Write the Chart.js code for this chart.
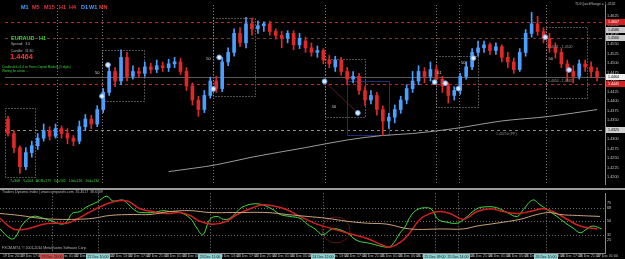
<!DOCTYPE html>
<html>
<head>
<meta charset="utf-8">
<script src="https://cdn.jsdelivr.net/npm/chart.js@4.4.1/dist/chart.umd.min.js"></script>
<style>
  html, body { margin: 0; padding: 0; background: #000; }
  #wrap { position: relative; width: 625px; height: 259px; overflow: hidden; background: #000;
          font-family: "Liberation Sans", Arial, sans-serif; }
  canvas { position: absolute; left: 0; }
  #priceChart { top: 0; }
  #oscChart { top: 189px; }
  .sep { position: absolute; left: 0; top: 188px; width: 625px; height: 2px; background: #9c9c9c; }
  .t { position: absolute; white-space: nowrap; line-height: 1; z-index: 2; }
  .tf { font-size: 5.5px; font-weight: bold; top: 4.5px; }
  .blue { color: #4aa0ff; }
  .red { color: #e23a3a; }
  .small { font-size: 3.5px; color: #b8b8b8; }
  .green { color: #3cd03c; }
</style>
</head>
<body>
<div id="wrap">
  <canvas id="priceChart" width="625" height="189"></canvas>
  <canvas id="oscChart" width="625" height="70"></canvas>
  <div class="sep"></div>

  <!-- timeframe buttons -->
  <span class="t tf blue" style="left:21px">M1</span>
  <span class="t tf red" style="left:32px">M5</span>
  <span class="t tf red" style="left:44px">M15</span>
  <span class="t tf red" style="left:59px">H1</span>
  <span class="t tf red" style="left:69px">H4</span>
  <span class="t tf blue" style="left:81px">D1</span>
  <span class="t tf blue" style="left:89px">W1</span>
  <span class="t tf red" style="left:99px">MN</span>

  <!-- info panel -->
  <span class="t green" style="left:11px; top:35.5px; font-size:5.5px; font-weight:bold">EURAUD&nbsp;&nbsp;&nbsp;H1</span>
  <span class="t small" style="left:11px; top:43px">Spread:&nbsp; 3.0</span>
  <span class="t small" style="left:11px; top:49.5px">Candle:&nbsp; 11:30</span>
  <span class="t" style="left:10px; top:53px; font-size:7.5px; font-weight:bold; color:#ff3030">1.4464</span>
  <span class="t small green" style="left:2px; top:65.5px; font-size:3px">Candlestick v1.4 on Forex Capital Markets (5 digits)</span>
  <span class="t small green" style="left:2px; top:69.5px; font-size:3px">Waiting for action ...</span>
  <span class="t small green" style="left:10px; top:180px">T=308&nbsp;&nbsp; Y=504&nbsp;&nbsp; ADR=175&nbsp;&nbsp; 5d=162&nbsp;&nbsp; 10d=136&nbsp;&nbsp; 20d=134</span>
  <span class="t small" style="left:575px; top:3px">TDI QuickRange = 1.4532</span>
  <span class="t small" style="left:548px; top:46px; color:#9a9a9a">1.4531 - 1.4520</span>
  <span class="t small" style="left:548px; top:80px; color:#9a9a9a">1.4450 - 1.4447</span>
  <span class="t small" style="left:496px; top:133px; color:#8a8a8a">1.43250 (PP)</span>

  <!-- indicator pane texts -->
  <span class="t small" style="left:2px; top:190.5px">Traders Dynamic Index | www.compassfx.com&nbsp; 35.4517&nbsp; 38.6309</span>
  <span class="t small" style="left:2px; top:246.5px">FXCM-MT4, © 2001-2014 MetaQuotes Software Corp.</span>
</div>

<script>
// EURAUD H1 candles, one per bar index
const opens = [
  1.4353, 1.4315, 1.4278, 1.4228, 1.4265, 1.4283, 1.4303, 1.4323, 1.4308, 1.4328,
  1.4315, 1.4303, 1.4295, 1.4333, 1.4353, 1.4340, 1.4378, 1.4423, 1.4478, 1.4453,
  1.4515, 1.4465, 1.4478, 1.4473, 1.4490, 1.4483, 1.4493, 1.4488, 1.4498, 1.4503,
  1.4478, 1.4440, 1.4403, 1.4378, 1.4415, 1.4453, 1.4433, 1.4503, 1.4528, 1.4578,
  1.4553, 1.4603, 1.4590, 1.4598, 1.4603, 1.4583, 1.4573, 1.4565, 1.4578, 1.4548,
  1.4558, 1.4540, 1.4528, 1.4533, 1.4508, 1.4490, 1.4508, 1.4478, 1.4458, 1.4465,
  1.4428, 1.4403, 1.4415, 1.4378, 1.4348, 1.4358, 1.4378, 1.4403, 1.4433, 1.4453,
  1.4478, 1.4465, 1.4483, 1.4458, 1.4440, 1.4415, 1.4428, 1.4465, 1.4490, 1.4528,
  1.4540, 1.4548, 1.4533, 1.4543, 1.4515, 1.4503, 1.4483, 1.4528, 1.4578, 1.4603,
  1.4583, 1.4565, 1.4540, 1.4528, 1.4498, 1.4478, 1.4465, 1.4498, 1.4490, 1.4478
];
const highs = [
  1.4360, 1.4323, 1.4283, 1.4278, 1.4295, 1.4315, 1.4340, 1.4333, 1.4340, 1.4335,
  1.4328, 1.4310, 1.4348, 1.4365, 1.4363, 1.4388, 1.4433, 1.4498, 1.4488, 1.4535,
  1.4528, 1.4493, 1.4488, 1.4503, 1.4500, 1.4508, 1.4503, 1.4510, 1.4515, 1.4513,
  1.4488, 1.4448, 1.4413, 1.4428, 1.4463, 1.4465, 1.4515, 1.4540, 1.4590, 1.4593,
  1.4620, 1.4618, 1.4610, 1.4608, 1.4610, 1.4590, 1.4583, 1.4585, 1.4585, 1.4578,
  1.4568, 1.4553, 1.4545, 1.4538, 1.4520, 1.4518, 1.4515, 1.4488, 1.4478, 1.4473,
  1.4438, 1.4428, 1.4423, 1.4388, 1.4368, 1.4390, 1.4413, 1.4443, 1.4478, 1.4493,
  1.4488, 1.4503, 1.4493, 1.4465, 1.4448, 1.4438, 1.4473, 1.4503, 1.4538, 1.4558,
  1.4558, 1.4553, 1.4553, 1.4548, 1.4528, 1.4513, 1.4538, 1.4588, 1.4633, 1.4623,
  1.4593, 1.4578, 1.4553, 1.4538, 1.4508, 1.4493, 1.4508, 1.4508, 1.4503, 1.4488
];
const lows = [
  1.4308, 1.4265, 1.4210, 1.4220, 1.4253, 1.4273, 1.4295, 1.4298, 1.4303, 1.4303,
  1.4288, 1.4283, 1.4288, 1.4323, 1.4328, 1.4333, 1.4370, 1.4415, 1.4438, 1.4443,
  1.4453, 1.4458, 1.4463, 1.4465, 1.4473, 1.4475, 1.4478, 1.4478, 1.4488, 1.4470,
  1.4428, 1.4390, 1.4360, 1.4370, 1.4408, 1.4423, 1.4425, 1.4493, 1.4518, 1.4543,
  1.4540, 1.4573, 1.4578, 1.4583, 1.4573, 1.4563, 1.4540, 1.4553, 1.4535, 1.4538,
  1.4528, 1.4518, 1.4515, 1.4498, 1.4488, 1.4478, 1.4468, 1.4443, 1.4448, 1.4418,
  1.4388, 1.4393, 1.4363, 1.4310, 1.4328, 1.4343, 1.4368, 1.4393, 1.4423, 1.4443,
  1.4448, 1.4453, 1.4443, 1.4423, 1.4395, 1.4403, 1.4418, 1.4458, 1.4483, 1.4518,
  1.4528, 1.4523, 1.4523, 1.4503, 1.4488, 1.4473, 1.4478, 1.4518, 1.4568, 1.4573,
  1.4553, 1.4528, 1.4513, 1.4488, 1.4453, 1.4448, 1.4458, 1.4478, 1.4463, 1.4453
];
const closes = [
  1.4315, 1.4278, 1.4228, 1.4265, 1.4283, 1.4303, 1.4323, 1.4308, 1.4328, 1.4315,
  1.4303, 1.4295, 1.4333, 1.4353, 1.4340, 1.4378, 1.4423, 1.4478, 1.4453, 1.4515,
  1.4465, 1.4478, 1.4473, 1.4490, 1.4483, 1.4493, 1.4488, 1.4498, 1.4503, 1.4478,
  1.4440, 1.4403, 1.4378, 1.4415, 1.4453, 1.4433, 1.4503, 1.4528, 1.4578, 1.4553,
  1.4603, 1.4590, 1.4598, 1.4603, 1.4583, 1.4573, 1.4565, 1.4578, 1.4548, 1.4565,
  1.4540, 1.4528, 1.4533, 1.4508, 1.4498, 1.4508, 1.4478, 1.4458, 1.4465, 1.4428,
  1.4403, 1.4415, 1.4378, 1.4348, 1.4358, 1.4378, 1.4403, 1.4433, 1.4453, 1.4478,
  1.4465, 1.4483, 1.4458, 1.4440, 1.4415, 1.4428, 1.4465, 1.4490, 1.4528, 1.4540,
  1.4548, 1.4533, 1.4543, 1.4515, 1.4503, 1.4483, 1.4528, 1.4578, 1.4603, 1.4583,
  1.4565, 1.4540, 1.4528, 1.4498, 1.4478, 1.4465, 1.4498, 1.4490, 1.4478, 1.4464
];

// slow moving average (gray curve), read at a few bars
const maBars = [27, 35, 41, 50, 57, 63, 68, 75, 83, 91, 99];
const maVals = [1.4215, 1.4233, 1.4253, 1.4278, 1.4298, 1.4310, 1.4315, 1.4328, 1.4348, 1.4360, 1.4378];

// arrow dots
const dotBars = [16.8, 15.8, 35.5, 34.5, 53.2, 58.8, 78.2, 71.7, 73.5, 75.7, 90.3, 94.3];
const dotPrices = [1.4495, 1.4413, 1.4515, 1.4432, 1.4452, 1.4369, 1.4513, 1.4450, 1.4447, 1.4433, 1.4568, 1.4482];

// Traders Dynamic Index lines
const greenBars = [-0.5, 1.2, 2, 3.3, 5, 6.7, 8.2, 9.8, 10.7, 11.5, 12.8, 14, 15.7, 17.3, 18.3, 20, 20.8, 22.3,
  23.3, 25, 26.7, 27.8, 29.5, 31.2, 32.3, 33.3, 34.5, 35.7, 36.7, 37.8, 39, 40, 41.7, 43.3, 45, 46.2, 47.8,
  49.5, 50.7, 52, 53.3, 54.8, 55.7, 57.3, 59, 61.2, 64, 64.8, 66.2, 67, 67.8, 69, 70.7, 71.5, 72.5, 74, 75.7,
  77, 79, 80.7, 82.3, 84, 85.7, 86.7, 88.3, 89.5, 90.7, 92.3, 94, 95, 96.2, 97.3, 98.3, 99.8];
const greenVals = [39.7, 26.9, 28.1, 46.1, 56.4, 53.9, 50.0, 46.1, 50.0, 60.3, 62.9, 69.3, 75.7, 83.4, 77.0, 78.3,
  73.1, 62.9, 61.6, 61.6, 64.1, 62.9, 61.6, 53.9, 41.0, 32.0, 52.6, 56.4, 52.6, 53.9, 62.9, 69.3, 73.1, 71.9,
  65.4, 59.0, 56.4, 53.9, 46.1, 39.7, 32.0, 39.7, 39.7, 34.6, 24.3, 20.4, 15.3, 17.9, 34.6, 42.3, 55.1, 65.4,
  68.0, 65.4, 52.6, 48.7, 47.4, 53.9, 66.7, 69.3, 68.0, 61.6, 56.4, 65.4, 78.3, 71.9, 65.4, 56.4, 46.1, 41.0,
  34.6, 39.7, 43.6, 39.7];
const redBars = [-0.5, 1.7, 4, 6.7, 9, 10.7, 12.3, 14, 16.2, 18.3, 20.7, 22.8, 25, 27.3, 29.5, 31.2, 32.8, 35,
  37.3, 39, 41.2, 43.3, 45.7, 47.3, 49.5, 52.3, 55, 57.8, 60.7, 63.3, 64.5, 66.2, 67.8, 69.5, 71.2, 72.8, 74.5,
  76.7, 79, 81.2, 83.3, 85.7, 87.8, 90, 91.7, 94, 96.2, 99];
const redVals = [53.9, 39.7, 39.7, 46.1, 47.4, 47.4, 52.6, 60.3, 69.3, 75.7, 77.0, 66.7, 62.9, 60.3, 61.6, 57.7,
  50.0, 46.1, 50.0, 59.0, 66.7, 71.9, 69.3, 65.4, 56.4, 46.1, 39.7, 33.3, 26.9, 17.9, 15.3, 21.7, 34.6, 52.6,
  60.3, 62.9, 60.3, 52.6, 62.9, 66.7, 62.9, 60.3, 62.9, 66.7, 62.9, 52.6, 43.6, 39.7];
const baseBars = [-0.5, 2.8, 6.2, 9, 12.3, 15, 17.8, 21.7, 24.5, 27.8, 31.2, 34.5, 38.3, 44, 47.3, 50.7, 54,
  57.3, 60.7, 64, 67.8, 73.3, 76.7, 79, 82.3, 86.2, 89, 91.2, 92.8, 95.7, 99.5];
const baseVals = [60.3, 57.7, 53.9, 52.6, 52.6, 53.9, 57.7, 59.0, 59.0, 62.9, 64.1, 61.6, 61.6, 61.6, 59.0,
  56.4, 53.9, 50.0, 47.4, 46.1, 39.7, 39.7, 39.7, 43.6, 47.4, 52.6, 59.0, 61.6, 59.0, 57.7, 56.4];

// axis labels
const priceTicks = [1.4625, 1.4600, 1.4575, 1.4550, 1.4525, 1.4500, 1.4475, 1.4450, 1.4425, 1.4400,
  1.4375, 1.4350, 1.4325, 1.4300, 1.4275, 1.4250, 1.4225, 1.4200];
const oscTicks = [75, 68, 50, 32, 25];
const oscLevels = [68, 50, 32];
const timeLabels = ['19 Dec 2014', '19 Dec 17:00', '19 Dec 21:00', '22 Dec 01:00', '22 Dec 05:00', '22 Dec 09:00',
  '22 Dec 13:00', '22 Dec 17:00', '22 Dec 21:00', '23 Dec 01:00', '23 Dec 05:00', '23 Dec 09:00', '23 Dec 13:00',
  '23 Dec 17:00', '23 Dec 21:00', '24 Dec 01:00', '24 Dec 05:00', '24 Dec 09:00', '24 Dec 13:00', '24 Dec 17:00',
  '24 Dec 21:00', '25 Dec 01:00', '25 Dec 05:00', '25 Dec 09:00', '25 Dec 13:00', '25 Dec 17:00', '25 Dec 21:00',
  '26 Dec 01:00', '26 Dec 05:00', '26 Dec 09:00', '26 Dec 13:00', '26 Dec 17:00', '26 Dec 21:00', '27 Dec 01:00'];

// chart objects drawn by the terminal
const markers = [
  { bar: 8.2, time: '19 Dec 23:00', tag: '#c84848' },
  { bar: 15.8, time: '22 Dec 10:00', tag: '#8ccfcf' },
  { bar: 34.5, time: '23 Dec 11:00', tag: '#8ccfcf' },
  { bar: 53.3, time: '24 Dec 12:00', tag: '#8ccfcf' },
  { bar: 72, time: '25 Dec 09:00', tag: '#8ccfcf' },
  { bar: 75.8, time: '25 Dec 14:00', tag: '#8ccfcf' },
  { bar: 90.5, time: '26 Dec 10:00', tag: '#8ccfcf' }
];
const levels = [
  { price: 1.4607, color: '#c42424', dash: [3, 3], tag: '#d02020', text: '#fff' },
  { price: 1.4586, color: null, tag: '#c8c8c8', text: '#000' },
  { price: 1.4566, color: '#7a3535', dash: [3, 3], tag: '#c8c8c8', text: '#000' },
  { price: 1.4464, color: '#5a5a5a', dash: [], tag: '#f0f0f0', text: '#000' },
  { price: 1.4445, color: '#c42424', dash: [3, 3], tag: '#d02020', text: '#fff' },
  { price: 1.4325, color: '#8a8a8a', dash: [3, 3], tag: '#d0d0d0', text: '#000' }
];
const zones = [
  { from: -0.5, to: 4.5, top: 1.4383, bottom: 1.4202 },
  { from: 15.8, to: 22.8, top: 1.4535, bottom: 1.4400, label: '50', lx: 15.0, lp: 1.4473 },
  { from: 34.5, to: 41.5, top: 1.4618, bottom: 1.4413, label: '50', lx: 33.7, lp: 1.4510 },
  { from: 53.3, to: 60.0, top: 1.4510, bottom: 1.4358, label: '50', lx: 54.8, lp: 1.4385 },
  { from: 72.0, to: 79.0, top: 1.4518, bottom: 1.4385, label: '50', lx: 76.5, lp: 1.4500 },
  { from: 90.5, to: 97.3, top: 1.4595, bottom: 1.4408, label: '50', lx: 91.2, lp: 1.4510 }
];
const boxes = [{ from: 57, to: 64, top: 1.4452, bottom: 1.4310 }];

const FONT = '"Liberation Sans", Arial, sans-serif';
const UP = '#4aa0ff';
const DOWN = '#e02828';
const candleColors = opens.map((o, i) => closes[i] >= o ? UP : DOWN);

function hline(ctx, x0, x1, y) {
    ctx.beginPath(); ctx.moveTo(x0, y); ctx.lineTo(x1, y); ctx.stroke();
}
function vline(ctx, x, y0, y1) {
    ctx.beginPath(); ctx.moveTo(x, y0); ctx.lineTo(x, y1); ctx.stroke();
}

// 画线、方框、竖线（放在K线后面）
const priceOverlay = {
    id: 'priceOverlay',
    beforeDatasetsDraw(chart) {
        const { ctx, chartArea: a, scales: { x, y } } = chart;
        ctx.save();
        ctx.beginPath(); ctx.rect(a.left, a.top, a.right - a.left, a.bottom - a.top); ctx.clip();
        ctx.lineWidth = 1;

        ctx.strokeStyle = '#7c7c7c';
        ctx.setLineDash([1, 2]);
        markers.forEach(m => vline(ctx, Math.round(x.getPixelForValue(m.bar)) + 0.5, a.top, a.bottom));

        levels.forEach(l => {
            if (!l.color) return;
            ctx.strokeStyle = l.color;
            ctx.setLineDash(l.dash);
            hline(ctx, a.left, a.right, Math.round(y.getPixelForValue(l.price)) + 0.5);
        });

        ctx.strokeStyle = '#1e2c78';
        ctx.setLineDash([]);
        boxes.forEach(b => {
            const x0 = Math.round(x.getPixelForValue(b.from)) + 0.5, x1 = Math.round(x.getPixelForValue(b.to)) + 0.5;
            const y0 = Math.round(y.getPixelForValue(b.top)) + 0.5, y1 = Math.round(y.getPixelForValue(b.bottom)) + 0.5;
            ctx.strokeRect(x0, y0, x1 - x0, y1 - y0);
        });

        ctx.strokeStyle = '#9a9a9a';
        ctx.setLineDash([1, 2]);
        zones.forEach(z => {
            const x0 = Math.round(x.getPixelForValue(z.from)) + 0.5, x1 = Math.round(x.getPixelForValue(z.to)) + 0.5;
            const y0 = Math.round(y.getPixelForValue(z.top)) + 0.5, y1 = Math.round(y.getPixelForValue(z.bottom)) + 0.5;
            ctx.strokeRect(x0, y0, x1 - x0, y1 - y0);
        });

        // diagonal trend segment
        ctx.strokeStyle = '#5a1c1c';
        ctx.setLineDash([]);
        ctx.beginPath();
        ctx.moveTo(x.getPixelForValue(dotBars[4]), y.getPixelForValue(dotPrices[4]));
        ctx.lineTo(x.getPixelForValue(dotBars[5]), y.getPixelForValue(dotPrices[5]));
        ctx.stroke();
        ctx.restore();
    },
    afterDraw(chart) {
        const { ctx, chartArea: a, scales: { x, y } } = chart;
        ctx.save();
        ctx.font = '4px ' + FONT;
        ctx.fillStyle = '#d0d0d0';
        ctx.textBaseline = 'middle';
        ctx.textAlign = 'center';
        zones.forEach(z => {
            if (z.label) ctx.fillText(z.label, x.getPixelForValue(z.lx), y.getPixelForValue(z.lp));
        });
        ctx.fillText('61', x.getPixelForValue(72.5), y.getPixelForValue(1.4473));

        // price tags on the right axis
        ctx.font = '3.6px ' + FONT;
        ctx.textAlign = 'left';
        levels.forEach(l => {
            const py = Math.round(y.getPixelForValue(l.price));
            ctx.fillStyle = l.tag;
            ctx.fillRect(a.right + 1, py - 3, 19, 6);
            ctx.fillStyle = l.text;
            ctx.fillText(l.price.toFixed(4), a.right + 3, py + 0.3);
        });
        ctx.restore();
    }
};

const oscOverlay = {
    id: 'oscOverlay',
    beforeDatasetsDraw(chart) {
        const { ctx, chartArea: a, scales: { x, y } } = chart;
        ctx.save();
        ctx.lineWidth = 1;
        ctx.strokeStyle = '#6c6c6c';
        ctx.setLineDash([1, 2]);
        oscLevels.forEach(v => hline(ctx, a.left, a.right, Math.round(y.getPixelForValue(v)) + 0.5));
        ctx.strokeStyle = '#7c7c7c';
        markers.forEach(m => vline(ctx, Math.round(x.getPixelForValue(m.bar)) + 0.5, a.top, a.bottom));
        ctx.setLineDash([]);
        ctx.strokeStyle = '#5a1515';
        ctx.beginPath();
        ctx.ellipse(x.getPixelForValue(55.5), y.getPixelForValue(38.4), 14, 13, 0, 0, Math.PI * 2);
        ctx.stroke();
        ctx.restore();
    },
    afterDraw(chart) {
        const { ctx, chartArea: a, scales: { x } } = chart;
        ctx.save();
        ctx.font = '3.5px ' + FONT;
        ctx.textAlign = 'center';
        ctx.textBaseline = 'middle';
        markers.forEach(m => {
            const px = Math.round(x.getPixelForValue(m.bar));
            ctx.fillStyle = m.tag;
            ctx.fillRect(px - 12, a.bottom + 1, 24, 5);
            ctx.fillStyle = '#1a1a1a';
            ctx.fillText(m.time, px, a.bottom + 3.6);
        });
        ctx.restore();
    }
};

new Chart(document.getElementById('priceChart'), {
    type: 'bar',
    data: {
        datasets: [
            {
                type: 'scatter',
                data: dotBars.map((b, i) => ({ x: b, y: dotPrices[i] })),
                pointRadius: 2.4,
                pointBackgroundColor: '#dde9ff',
                pointBorderColor: '#6aa8e8',
                pointBorderWidth: 1,
                order: 0
            },
            {
                data: opens.map((o, i) => ({ x: i, y: [o, closes[i]] })),
                backgroundColor: candleColors,
                barThickness: 3,
                grouped: false,
                order: 1
            },
            {
                data: lows.map((l, i) => ({ x: i, y: [l, highs[i]] })),
                backgroundColor: candleColors,
                barThickness: 1,
                grouped: false,
                order: 2
            },
            {
                type: 'line',
                data: maBars.map((b, i) => ({ x: b, y: maVals[i] })),
                borderColor: '#9a9a9a',
                borderWidth: 1,
                pointRadius: 0,
                cubicInterpolationMode: 'monotone',
                order: 3
            }
        ]
    },
    options: {
        responsive: false,
        animation: false,
        events: [],
        layout: { padding: 0 },
        plugins: { legend: { display: false }, tooltip: { enabled: false } },
        scales: {
            x: { type: 'linear', min: -0.5, max: 100.333, offset: false, display: false },
            y: {
                position: 'right',
                min: 1.41825,
                max: 1.46525,
                afterBuildTicks: ax => { ax.ticks = priceTicks.map(v => ({ value: v })); },
                afterFit: ax => { ax.width = 20; },
                grid: { display: false, drawTicks: false },
                border: { display: true, color: '#8a8a8a' },
                ticks: { color: '#c4c4c4', font: { size: 3.8, family: FONT }, padding: 2,
                         callback: v => v.toFixed(4) }
            }
        }
    },
    plugins: [priceOverlay]
});

new Chart(document.getElementById('oscChart'), {
    type: 'line',
    data: {
        datasets: [
            { data: baseBars.map((b, i) => ({ x: b, y: baseVals[i] })), borderColor: '#c9a27a', borderWidth: 1 },
            { data: redBars.map((b, i) => ({ x: b, y: redVals[i] })), borderColor: '#d42020', borderWidth: 1.5 },
            { data: greenBars.map((b, i) => ({ x: b, y: greenVals[i] })), borderColor: '#3ddc3d', borderWidth: 1 }
        ]
    },
    options: {
        responsive: false,
        animation: false,
        events: [],
        layout: { padding: { top: 2, left: 0, right: 0, bottom: 0 } },
        elements: { point: { radius: 0 }, line: { tension: 0.4 } },
        plugins: { legend: { display: false }, tooltip: { enabled: false } },
        scales: {
            x: {
                type: 'linear',
                min: -0.5,
                max: 100.333,
                afterBuildTicks: ax => { ax.ticks = timeLabels.map((_, k) => ({ value: k * 3 })); },
                afterFit: ax => { ax.height = 6; },
                grid: { display: false, drawTicks: false },
                border: { display: true, color: '#8a8a8a' },
                ticks: { color: '#c4c4c4', font: { size: 3.5, family: FONT }, padding: 1, align: 'start',
                         maxRotation: 0, autoSkip: false, callback: (v, k) => timeLabels[k] }
            },
            y: {
                position: 'right',
                min: 7.6,
                max: 87.3,
                afterBuildTicks: ax => { ax.ticks = oscTicks.map(v => ({ value: v })); },
                afterFit: ax => { ax.width = 20; },
                grid: { display: false, drawTicks: false },
                border: { display: true, color: '#8a8a8a' },
                ticks: { color: '#c4c4c4', font: { size: 3.8, family: FONT }, padding: 2 }
            }
        }
    },
    plugins: [oscOverlay]
});
</script>
</body>
</html>
